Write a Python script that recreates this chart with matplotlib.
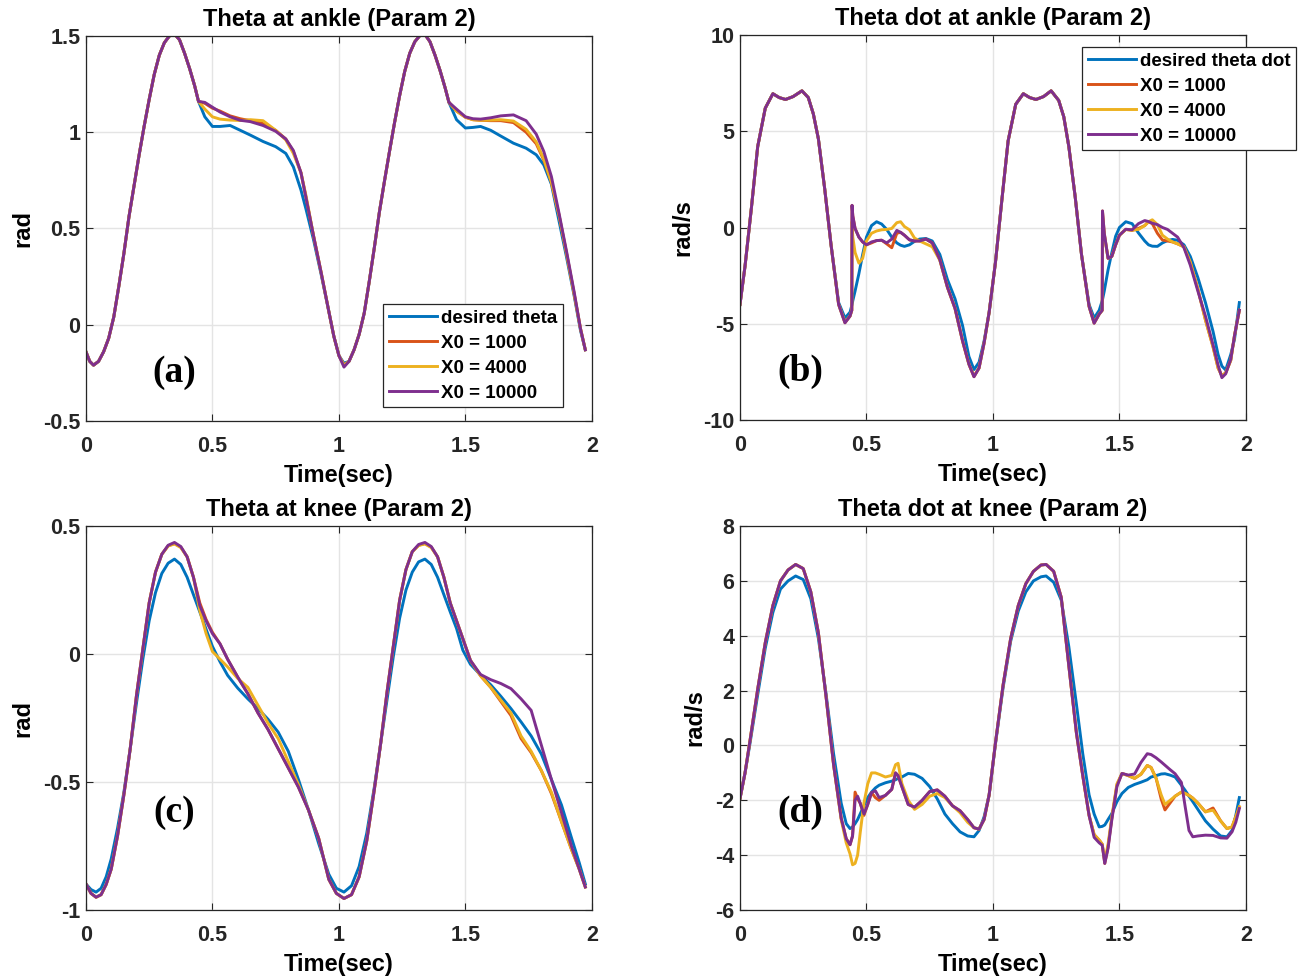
import matplotlib
matplotlib.use('Agg')
import matplotlib.pyplot as plt

# ---- data ----
series_labels_a = ['desired theta', 'X0 = 1000', 'X0 = 4000', 'X0 = 10000']
series_labels_b = ['desired theta dot', 'X0 = 1000', 'X0 = 4000', 'X0 = 10000']

# (a) theta at ankle
t_a = [0, 0.015, 0.03, 0.05, 0.07, 0.09, 0.11, 0.13, 0.15, 0.17,
       0.19, 0.21, 0.23, 0.25, 0.27, 0.29, 0.31, 0.33, 0.35, 0.37,
       0.39, 0.41, 0.43, 0.445, 0.47, 0.5, 0.53, 0.57, 0.61, 0.65,
       0.7, 0.75, 0.79, 0.82, 0.85, 0.87, 0.9, 0.93, 0.96, 0.98,
       1.0, 1.02, 1.04, 1.06, 1.08, 1.1, 1.12, 1.14, 1.16, 1.18,
       1.2, 1.22, 1.24, 1.26, 1.28, 1.3, 1.32, 1.34, 1.36, 1.38,
       1.4, 1.42, 1.435, 1.465, 1.5, 1.53, 1.56, 1.6, 1.64, 1.69,
       1.74, 1.78, 1.81, 1.84, 1.87, 1.9, 1.93, 1.955, 1.974]
ankle_des = [-0.14, -0.19, -0.21, -0.19, -0.14, -0.07, 0.04, 0.20, 0.37, 0.56,
             0.72, 0.88, 1.03, 1.17, 1.30, 1.40, 1.465, 1.50, 1.51, 1.48,
             1.41, 1.33, 1.24, 1.16, 1.08, 1.03, 1.03, 1.035, 1.01, 0.985,
             0.952, 0.925, 0.89, 0.82, 0.70, 0.60, 0.44, 0.26, 0.07, -0.06,
             -0.16, -0.20, -0.19, -0.13, -0.05, 0.06, 0.225, 0.40, 0.585, 0.745,
             0.90, 1.05, 1.19, 1.315, 1.41, 1.47, 1.502, 1.508, 1.47, 1.40,
             1.32, 1.23, 1.155, 1.065, 1.022, 1.025, 1.03, 1.01, 0.98, 0.943,
             0.917, 0.883, 0.83, 0.73, 0.54, 0.35, 0.15, -0.03, -0.13]
ankle_x1 = [-0.14, -0.19, -0.21, -0.19, -0.14, -0.07, 0.04, 0.20, 0.37, 0.56,
            0.72, 0.88, 1.03, 1.17, 1.30, 1.40, 1.465, 1.50, 1.51, 1.48,
            1.41, 1.33, 1.24, 1.16, 1.15, 1.125, 1.11, 1.085, 1.07, 1.06,
            1.045, 1.01, 0.965, 0.90, 0.79, 0.66, 0.46, 0.27, 0.07, -0.06,
            -0.16, -0.21, -0.19, -0.13, -0.05, 0.06, 0.225, 0.40, 0.585, 0.745,
            0.90, 1.05, 1.19, 1.315, 1.41, 1.47, 1.502, 1.508, 1.47, 1.40,
            1.32, 1.23, 1.155, 1.11, 1.078, 1.065, 1.062, 1.06, 1.06, 1.05,
            1.0, 0.94, 0.855, 0.74, 0.57, 0.37, 0.16, -0.02, -0.13]
ankle_x4 = [-0.14, -0.19, -0.21, -0.19, -0.14, -0.07, 0.04, 0.20, 0.37, 0.56,
            0.72, 0.88, 1.03, 1.17, 1.30, 1.40, 1.465, 1.50, 1.51, 1.48,
            1.41, 1.33, 1.24, 1.16, 1.12, 1.08, 1.068, 1.063, 1.061, 1.065,
            1.06, 1.01, 0.96, 0.89, 0.79, 0.67, 0.46, 0.27, 0.07, -0.06,
            -0.16, -0.21, -0.19, -0.13, -0.05, 0.06, 0.225, 0.40, 0.585, 0.745,
            0.90, 1.05, 1.19, 1.315, 1.41, 1.47, 1.502, 1.508, 1.47, 1.40,
            1.32, 1.23, 1.155, 1.11, 1.078, 1.065, 1.062, 1.063, 1.065, 1.058,
            1.015, 0.95, 0.86, 0.74, 0.57, 0.37, 0.16, -0.02, -0.13]
ankle_x10 = [-0.14, -0.19, -0.21, -0.19, -0.14, -0.07, 0.04, 0.20, 0.37, 0.56,
             0.72, 0.88, 1.03, 1.17, 1.30, 1.40, 1.465, 1.50, 1.51, 1.48,
             1.41, 1.33, 1.24, 1.16, 1.155, 1.13, 1.105, 1.08, 1.062, 1.055,
             1.035, 1.005, 0.965, 0.905, 0.79, 0.66, 0.46, 0.27, 0.07, -0.06,
             -0.16, -0.22, -0.19, -0.13, -0.05, 0.06, 0.225, 0.40, 0.585, 0.745,
             0.90, 1.05, 1.19, 1.315, 1.41, 1.47, 1.502, 1.508, 1.47, 1.40,
             1.32, 1.23, 1.155, 1.12, 1.08, 1.07, 1.068, 1.075, 1.085, 1.09,
             1.06, 0.99, 0.90, 0.77, 0.58, 0.38, 0.17, -0.02, -0.13]

# (b) theta dot at ankle
t_b = [0, 0.02, 0.045, 0.07, 0.1, 0.13, 0.155, 0.18, 0.21, 0.245,
       0.27, 0.29, 0.31, 0.335, 0.36, 0.39, 0.415, 0.435, 0.442, 0.443,
       0.446, 0.455, 0.47, 0.485, 0.5, 0.52, 0.54, 0.56, 0.58, 0.6,
       0.62, 0.635, 0.65, 0.67, 0.69, 0.71, 0.735, 0.76, 0.79, 0.82,
       0.85, 0.88, 0.905, 0.925, 0.945, 0.965, 0.985, 1.01, 1.035, 1.06,
       1.09, 1.12, 1.145, 1.17, 1.2, 1.23, 1.26, 1.28, 1.3, 1.325,
       1.35, 1.38, 1.4, 1.42, 1.432, 1.433, 1.44, 1.455, 1.47, 1.485,
       1.5, 1.525, 1.55, 1.575, 1.6, 1.615, 1.63, 1.65, 1.67, 1.69,
       1.71, 1.73, 1.755, 1.78, 1.81, 1.84, 1.87, 1.89, 1.905, 1.92,
       1.94, 1.955, 1.974]
ankle_dot_des = [-4.0, -2.0, 1.0, 4.2, 6.2, 6.95, 6.75, 6.65, 6.8, 7.1,
                 6.75, 5.9, 4.6, 2.0, -0.9, -3.9, -4.7, -4.4, -4.05, -4.0,
                 -3.8, -3.3, -2.4, -1.4, -0.5, 0.1, 0.3, 0.18, -0.1, -0.5,
                 -0.8, -0.92, -0.98, -0.9, -0.72, -0.6, -0.57, -0.7, -1.4, -2.7,
                 -3.7, -5.1, -6.7, -7.38, -7.0, -5.9, -4.4, -1.8, 1.4, 4.5,
                 6.4, 6.95, 6.75, 6.65, 6.8, 7.1, 6.6, 5.75, 4.2, 1.6,
                 -1.4, -4.0, -4.7, -4.3, -3.8, -3.75, -3.3, -2.2, -1.3, -0.45,
                 0.0, 0.3, 0.2, -0.28, -0.7, -0.9, -0.97, -0.98, -0.8, -0.68,
                 -0.62, -0.66, -0.9, -1.5, -2.6, -3.9, -5.4, -6.6, -7.2, -7.4,
                 -6.6, -5.8, -3.9]
ankle_dot_x1 = [-4.0, -2.0, 1.0, 4.2, 6.2, 6.95, 6.75, 6.65, 6.8, 7.1,
                6.75, 5.9, 4.6, 2.0, -0.9, -4.0, -4.95, -4.6, -4.3, 1.15,
                0.6, -0.05, -0.5, -0.75, -0.9, -0.8, -0.68, -0.66, -0.85, -1.05,
                -0.3, -0.25, -0.4, -0.64, -0.7, -0.7, -0.6, -0.8, -1.67, -3.1,
                -4.2, -5.9, -7.1, -7.75, -7.3, -6.0, -4.4, -1.8, 1.4, 4.5,
                6.4, 6.95, 6.75, 6.65, 6.8, 7.1, 6.6, 5.75, 4.2, 1.6,
                -1.4, -4.1, -4.97, -4.5, -4.3, 0.86, -0.3, -1.6, -1.5, -0.9,
                -0.4, -0.1, -0.15, -0.05, 0.1, 0.3, 0.2, -0.3, -0.65, -0.7,
                -0.75, -0.85, -1.0, -1.8, -3.2, -4.8, -6.2, -7.3, -7.7, -7.55,
                -6.9, -5.6, -4.3]
ankle_dot_x4 = [-4.0, -2.0, 1.0, 4.2, 6.2, 6.95, 6.75, 6.65, 6.8, 7.1,
                6.75, 5.9, 4.6, 2.0, -0.9, -4.0, -4.9, -4.6, -4.3, 0.3,
                -0.5, -1.3, -1.85, -1.6, -0.7, -0.3, -0.18, -0.12, -0.1, -0.05,
                0.25, 0.3, 0.05, -0.12, -0.55, -0.7, -0.85, -1.0, -1.7, -3.1,
                -4.2, -5.9, -7.1, -7.7, -7.3, -6.0, -4.4, -1.8, 1.4, 4.5,
                6.4, 6.95, 6.75, 6.65, 6.8, 7.1, 6.6, 5.75, 4.2, 1.6,
                -1.4, -4.1, -4.95, -4.5, -4.3, 0.6, -0.4, -1.6, -1.5, -0.9,
                -0.4, -0.1, -0.14, -0.1, 0.1, 0.3, 0.4, 0.15, -0.4, -0.6,
                -0.75, -0.85, -1.0, -1.8, -3.2, -4.8, -6.2, -7.3, -7.7, -7.55,
                -6.9, -5.6, -4.3]
ankle_dot_x10 = [-4.0, -2.0, 1.0, 4.2, 6.2, 6.95, 6.75, 6.65, 6.8, 7.1,
                 6.75, 5.9, 4.6, 2.0, -0.9, -4.0, -4.95, -4.6, -4.3, 1.15,
                 0.6, -0.05, -0.5, -0.75, -0.9, -0.75, -0.68, -0.66, -0.8, -0.6,
                 -0.15, -0.25, -0.4, -0.64, -0.7, -0.7, -0.6, -0.8, -1.67, -3.1,
                 -4.2, -5.9, -7.1, -7.75, -7.3, -6.0, -4.4, -1.8, 1.4, 4.5,
                 6.4, 6.95, 6.75, 6.65, 6.8, 7.1, 6.6, 5.75, 4.2, 1.6,
                 -1.4, -4.1, -4.97, -4.5, -4.3, 0.86, -0.3, -1.6, -1.5, -0.9,
                 -0.4, -0.09, -0.12, 0.2, 0.36, 0.31, 0.22, 0.15, 0.0, -0.1,
                 -0.3, -0.5, -1.05, -1.95, -3.3, -4.6, -6.1, -7.15, -7.8, -7.6,
                 -6.85, -5.6, -4.3]

# (c) theta at knee
t_c = [0, 0.02, 0.04, 0.06, 0.08, 0.1, 0.125, 0.15, 0.175, 0.2,
       0.225, 0.25, 0.275, 0.3, 0.325, 0.35, 0.375, 0.4, 0.425, 0.45,
       0.475, 0.5, 0.53, 0.56, 0.6, 0.64, 0.68, 0.72, 0.76, 0.8,
       0.84, 0.88, 0.92, 0.96, 0.99, 1.02, 1.05, 1.08, 1.11, 1.14,
       1.165, 1.19, 1.215, 1.24, 1.265, 1.29, 1.315, 1.34, 1.365, 1.39,
       1.415, 1.44, 1.465, 1.49, 1.52, 1.56, 1.6, 1.64, 1.68, 1.72,
       1.76, 1.8, 1.84, 1.88, 1.92, 1.95, 1.974]
knee_des = [-0.898, -0.92, -0.93, -0.915, -0.87, -0.80, -0.68, -0.54, -0.37, -0.19,
            -0.02, 0.13, 0.24, 0.315, 0.355, 0.371, 0.35, 0.30, 0.232, 0.165,
            0.097, 0.03, -0.03, -0.083, -0.133, -0.175, -0.213, -0.255, -0.305, -0.38,
            -0.49, -0.61, -0.74, -0.86, -0.915, -0.93, -0.905, -0.83, -0.70, -0.52,
            -0.35, -0.18, -0.01, 0.14, 0.25, 0.32, 0.36, 0.371, 0.35, 0.30,
            0.232, 0.165, 0.10, 0.015, -0.04, -0.082, -0.12, -0.165, -0.213, -0.265,
            -0.32, -0.39, -0.49, -0.59, -0.72, -0.815, -0.898]
knee_x1 = [-0.898, -0.935, -0.95, -0.94, -0.90, -0.84, -0.71, -0.55, -0.37, -0.16,
           0.02, 0.20, 0.32, 0.39, 0.423, 0.432, 0.418, 0.38, 0.30, 0.20,
           0.135, 0.085, 0.04, -0.02, -0.09, -0.155, -0.23, -0.295, -0.37, -0.445,
           -0.52, -0.61, -0.72, -0.88, -0.935, -0.955, -0.94, -0.87, -0.73, -0.53,
           -0.35, -0.15, 0.03, 0.21, 0.33, 0.40, 0.425, 0.432, 0.418, 0.38,
           0.30, 0.20, 0.13, 0.06, -0.025, -0.085, -0.13, -0.185, -0.24, -0.33,
           -0.385, -0.455, -0.545, -0.655, -0.765, -0.84, -0.91]
knee_x4 = [-0.898, -0.935, -0.95, -0.94, -0.90, -0.84, -0.71, -0.55, -0.37, -0.16,
           0.02, 0.20, 0.32, 0.39, 0.422, 0.43, 0.416, 0.38, 0.30, 0.17,
           0.08, 0.01, -0.02, -0.05, -0.095, -0.13, -0.20, -0.27, -0.33, -0.42,
           -0.51, -0.61, -0.72, -0.88, -0.935, -0.955, -0.94, -0.87, -0.73, -0.53,
           -0.35, -0.15, 0.03, 0.21, 0.33, 0.40, 0.424, 0.43, 0.416, 0.38,
           0.30, 0.20, 0.13, 0.06, -0.025, -0.085, -0.13, -0.18, -0.23, -0.32,
           -0.38, -0.455, -0.54, -0.655, -0.765, -0.84, -0.91]
knee_x10 = [-0.898, -0.935, -0.95, -0.94, -0.90, -0.84, -0.71, -0.55, -0.37, -0.16,
            0.02, 0.20, 0.32, 0.39, 0.425, 0.436, 0.42, 0.38, 0.30, 0.19,
            0.13, 0.08, 0.04, -0.02, -0.09, -0.155, -0.23, -0.295, -0.37, -0.445,
            -0.52, -0.61, -0.72, -0.88, -0.935, -0.955, -0.94, -0.87, -0.73, -0.53,
            -0.35, -0.15, 0.03, 0.21, 0.33, 0.40, 0.428, 0.436, 0.42, 0.38,
            0.30, 0.20, 0.13, 0.06, -0.025, -0.08, -0.10, -0.115, -0.135, -0.175,
            -0.22, -0.355, -0.49, -0.62, -0.753, -0.84, -0.91]

# (d) theta dot at knee
t_d = [0, 0.02, 0.04, 0.07, 0.1, 0.13, 0.16, 0.19, 0.22, 0.25,
       0.28, 0.31, 0.34, 0.37, 0.4, 0.42, 0.435, 0.445, 0.455, 0.465,
       0.475, 0.49, 0.505, 0.52, 0.535, 0.55, 0.575, 0.6, 0.615, 0.625,
       0.64, 0.665, 0.69, 0.72, 0.75, 0.78, 0.81, 0.84, 0.87, 0.9,
       0.925, 0.945, 0.965, 0.985, 1.01, 1.04, 1.07, 1.1, 1.13, 1.16,
       1.19, 1.21, 1.24, 1.27, 1.3, 1.33, 1.355, 1.38, 1.4, 1.42,
       1.432, 1.442, 1.455, 1.47, 1.49, 1.51, 1.535, 1.56, 1.585, 1.61,
       1.625, 1.645, 1.665, 1.68, 1.7, 1.72, 1.745, 1.76, 1.775, 1.79,
       1.81, 1.84, 1.87, 1.9, 1.925, 1.945, 1.96, 1.974]
knee_dot_des = [-1.94, -1.0, 0.1, 1.85, 3.55, 4.85, 5.7, 6.0, 6.18, 6.05,
                5.35, 3.9, 1.9, -0.3, -2.1, -2.85, -3.03, -2.97, -2.85, -2.7,
                -2.5, -2.2, -1.9, -1.7, -1.55, -1.45, -1.36, -1.3, -1.25, -1.2,
                -1.15, -1.02, -1.05, -1.2, -1.5, -1.95, -2.5, -2.85, -3.15, -3.3,
                -3.33, -3.1, -2.6, -1.8, 0.06, 2.1, 3.8, 4.9, 5.6, 6.0,
                6.15, 6.18, 5.95, 5.3, 3.6, 1.5, -0.3, -1.8, -2.5, -2.97,
                -2.95, -2.9, -2.7, -2.48, -2.05, -1.75, -1.53, -1.42, -1.34, -1.25,
                -1.15, -1.1, -1.04, -1.03, -1.08, -1.15, -1.45, -1.64, -1.85, -2.05,
                -2.33, -2.75, -3.05, -3.3, -3.33, -3.1, -2.55, -1.9]
knee_dot_x1 = [-1.94, -1.0, 0.2, 2.05, 3.75, 5.1, 6.0, 6.4, 6.6, 6.45,
               5.6, 4.1, 1.8, -0.7, -2.65, -3.4, -3.62, -3.3, -1.7, -1.95,
               -2.1, -2.55, -2.15, -1.72, -1.9, -2.0, -1.82, -1.6, -1.0, -1.1,
               -1.5, -2.15, -2.25, -2.0, -1.68, -1.62, -1.85, -2.2, -2.38, -2.7,
               -3.0, -3.05, -2.7, -1.8, 0.1, 2.2, 3.9, 5.1, 5.9, 6.35,
               6.58, 6.6, 6.35, 5.4, 2.9, 0.45, -1.1, -2.55, -3.25, -3.45,
               -3.6, -4.3, -3.7, -2.65, -1.45, -1.02, -1.1, -1.2, -1.05, -0.73,
               -0.8, -1.2, -1.95, -2.35, -2.1, -1.85, -1.7, -1.75, -1.82, -1.92,
               -2.1, -2.42, -2.28, -2.75, -3.03, -2.97, -2.6, -2.24]
knee_dot_x4 = [-1.94, -1.0, 0.2, 2.05, 3.75, 5.1, 6.0, 6.4, 6.6, 6.45,
               5.6, 4.1, 1.8, -0.7, -2.7, -3.55, -3.95, -4.35, -4.3, -4.0,
               -3.2, -2.1, -1.4, -1.0, -1.0, -1.05, -1.15, -1.09, -0.7, -0.65,
               -1.39, -2.0, -2.33, -2.15, -1.85, -1.75, -1.9, -2.2, -2.45, -2.8,
               -3.0, -3.05, -2.7, -1.8, 0.1, 2.2, 3.9, 5.1, 5.9, 6.35,
               6.58, 6.6, 6.35, 5.4, 2.9, 0.45, -1.1, -2.55, -3.25, -3.45,
               -3.6, -4.2, -3.6, -2.6, -1.4, -1.02, -1.1, -1.2, -1.05, -0.73,
               -0.8, -1.2, -1.8, -2.15, -2.0, -1.85, -1.7, -1.75, -1.82, -1.92,
               -2.1, -2.42, -2.36, -2.75, -3.03, -2.97, -2.6, -2.24]
knee_dot_x10 = [-1.94, -1.0, 0.2, 2.05, 3.75, 5.1, 6.0, 6.4, 6.6, 6.45,
                5.6, 4.1, 1.8, -0.7, -2.65, -3.4, -3.62, -3.3, -2.0, -1.85,
                -2.1, -2.5, -2.15, -1.72, -1.65, -1.9, -1.82, -1.6, -1.0, -1.1,
                -1.5, -2.15, -2.25, -2.0, -1.68, -1.62, -1.85, -2.2, -2.38, -2.7,
                -3.0, -3.05, -2.7, -1.8, 0.1, 2.2, 3.9, 5.1, 5.9, 6.35,
                6.58, 6.6, 6.35, 5.4, 2.9, 0.45, -1.1, -2.55, -3.35, -3.55,
                -3.64, -4.3, -3.75, -2.7, -1.5, -1.02, -1.08, -1.04, -0.62, -0.3,
                -0.33, -0.45, -0.6, -0.72, -0.88, -1.03, -1.35, -2.24, -3.1, -3.33,
                -3.3, -3.27, -3.28, -3.37, -3.38, -3.15, -2.8, -2.3]

x_ticks = [0, 0.5, 1, 1.5, 2]
x_ticklabels = ['0', '0.5', '1', '1.5', '2']

colors = ['#0072BD', '#D95319', '#EDB120', '#7E2F8E']

plt.rcParams['font.family'] = ['Liberation Sans', 'DejaVu Sans']
plt.rcParams['font.weight'] = 'bold'
plt.rcParams['axes.edgecolor'] = '#262626'

fig = plt.figure(figsize=(13.06, 9.8), dpi=100)
fig.patch.set_facecolor('white')

ax_a = fig.add_axes([0.0658, 0.5704, 0.3874, 0.3929])
ax_b = fig.add_axes([0.5666, 0.5714, 0.3874, 0.3929])
ax_c = fig.add_axes([0.0658, 0.0714, 0.3874, 0.3918])
ax_d = fig.add_axes([0.5666, 0.0714, 0.3874, 0.3918])


def draw(ax, t, series, labels):
    for ys, lab, c in zip(series, labels, colors):
        ax.plot(t, ys, color=c, linewidth=2.1, label=lab, solid_joinstyle='round')


def style(ax, ylim, yticks, ylabels, title, ylabel, tag, tagpos):
    ax.set_xlim(0, 2)
    ax.set_ylim(*ylim)
    ax.set_xticks(x_ticks)
    ax.set_xticklabels(x_ticklabels)
    ax.set_yticks(yticks)
    ax.set_yticklabels(ylabels)
    ax.grid(True, color='#e4e4e4', linewidth=1.0)
    ax.set_axisbelow(True)
    ax.tick_params(direction='in', top=True, right=True, length=5, width=0.8,
                   labelsize=15.5, colors='#262626')
    ax.tick_params(axis='x', pad=10.5)
    ax.tick_params(axis='y', pad=4)
    for s in ax.spines.values():
        s.set_linewidth(0.9)
    ax.set_title(title, fontsize=17, fontweight='bold', pad=7)
    ax.set_xlabel('Time(sec)', fontsize=17, fontweight='bold', labelpad=5.5)
    ax.set_ylabel(ylabel, fontsize=17, fontweight='bold', labelpad=6)
    ax.text(tagpos[0], tagpos[1], tag, transform=ax.transAxes,
            family='Liberation Serif', fontsize=27, fontweight='bold',
            ha='center', va='center')


def legend(ax, labels, **kw):
    leg = ax.legend(fontsize=13.5, frameon=True, fancybox=False, edgecolor='#262626',
                    framealpha=1, handlelength=2.6, handletextpad=0.2, borderpad=0.3,
                    labelspacing=0.42, borderaxespad=0, **kw)
    leg.get_frame().set_linewidth(0.9)


draw(ax_a, t_a, [ankle_des, ankle_x1, ankle_x4, ankle_x10], series_labels_a)
style(ax_a, (-0.5, 1.5), [-0.5, 0, 0.5, 1, 1.5], ['-0.5', '0', '0.5', '1', '1.5'],
      'Theta at ankle (Param 2)', 'rad', '(a)', (0.174, 0.127))
legend(ax_a, series_labels_a, loc='lower right', bbox_to_anchor=(0.943, 0.036))

draw(ax_b, t_b, [ankle_dot_des, ankle_dot_x1, ankle_dot_x4, ankle_dot_x10], series_labels_b)
style(ax_b, (-10, 10), [-10, -5, 0, 5, 10], ['-10', '-5', '0', '5', '10'],
      'Theta dot at ankle (Param 2)', 'rad/s', '(b)', (0.119, 0.127))
legend(ax_b, series_labels_b, loc='upper left', bbox_to_anchor=(0.676, 0.969))

draw(ax_c, t_c, [knee_des, knee_x1, knee_x4, knee_x10], series_labels_a)
style(ax_c, (-1, 0.5), [-1, -0.5, 0, 0.5], ['-1', '-0.5', '0', '0.5'],
      'Theta at knee (Param 2)', 'rad', '(c)', (0.174, 0.255))

draw(ax_d, t_d, [knee_dot_des, knee_dot_x1, knee_dot_x4, knee_dot_x10], series_labels_a)
style(ax_d, (-6, 8), [-6, -4, -2, 0, 2, 4, 6, 8], ['-6', '-4', '-2', '0', '2', '4', '6', '8'],
      'Theta dot at knee (Param 2)', 'rad/s', '(d)', (0.119, 0.255))

fig.savefig('out.png', dpi=100)
